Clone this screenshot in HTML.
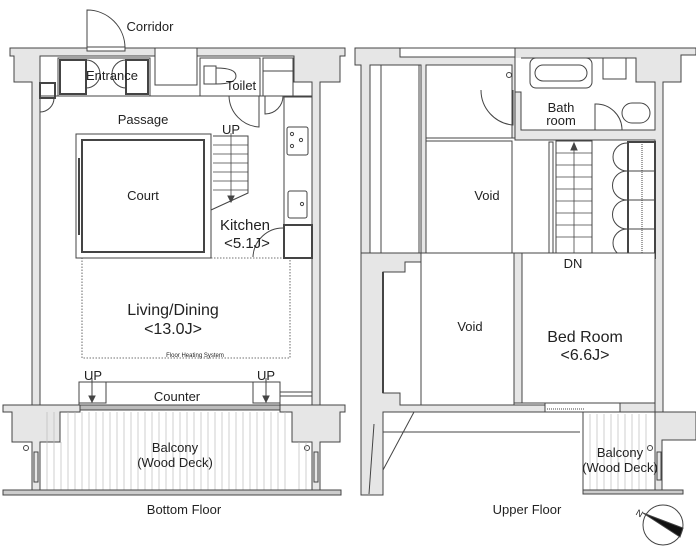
<!DOCTYPE html>
<html><head><meta charset="utf-8"><style>
html,body{margin:0;padding:0;background:#fff}
svg{display:block}
text{font-family:"Liberation Sans",sans-serif;fill:#222}
</style></head><body>
<svg width="696" height="550" viewBox="0 0 696 550" xmlns="http://www.w3.org/2000/svg">
<g stroke="#444" stroke-width="1" fill="none">
<!-- ===== BOTTOM FLOOR ===== -->
<path d="M10,48 H345 V56 H340 V82 H320 V405 H312 V82 H294 V56 H40 V82 H40 V405 H32 V82 H14 V56 H10 Z" fill="#e6e6e6"/>
<path d="M87,48 V10 A38,38 0 0 1 125,48" />
<rect x="87" y="47" width="38" height="4" fill="#fff"/>
<rect x="58" y="58" width="92" height="38" fill="#fff"/>
<rect x="60" y="60" width="26" height="34" stroke-width="2"/>
<rect x="126" y="60" width="22" height="34" stroke-width="2"/>
<path d="M86,60 A14,14 0 0 1 100,74 A14,14 0 0 1 86,88 M126,60 A14,14 0 0 0 112,74 A14,14 0 0 0 126,88"/>
<rect x="155" y="48" width="42" height="37" fill="#fff"/>
<rect x="200" y="58" width="60" height="38" fill="#fff"/>
<rect x="204" y="66" width="12" height="18"/>
<path d="M216,68 Q236,68 236,76 Q236,84 216,84"/>
<rect x="263" y="58" width="30" height="38" fill="#fff"/>
<line x1="263" y1="71" x2="293" y2="71"/>
<path d="M229,96 A32,32 0 0 0 259,127 V96 M265,96 V114 A18,18 0 0 0 283,96"/>
<rect x="40" y="83" width="15" height="15" stroke-width="2"/>
<path d="M40,98 V112 A14,14 0 0 0 54,98"/>
<line x1="40" y1="96" x2="312" y2="96"/>
<rect x="76" y="134" width="135" height="124"/>
<rect x="82" y="140" width="122" height="112" stroke-width="2"/>
<line x1="79" y1="158" x2="79" y2="235" stroke-width="2"/>
<path d="M213,136 H248 V193 L211,210"/>
<g stroke-width="0.8">
<line x1="213" y1="145" x2="248" y2="145"/><line x1="213" y1="154" x2="248" y2="154"/><line x1="213" y1="163" x2="248" y2="163"/><line x1="213" y1="172" x2="248" y2="172"/><line x1="213" y1="181" x2="248" y2="181"/><line x1="213" y1="190" x2="248" y2="190"/>
<line x1="231" y1="133" x2="231" y2="200"/>
</g>
<path d="M228,196 L231,202 L234,196 Z" fill="#444"/>
<rect x="284" y="97" width="28" height="128"/>
<rect x="287" y="127" width="21" height="28" rx="2"/>
<circle cx="292" cy="134" r="1.6"/><circle cx="301" cy="140" r="1.6"/><circle cx="292" cy="146" r="1.6"/>
<rect x="288" y="191" width="19" height="27" rx="2"/>
<circle cx="302" cy="204" r="1.6"/>
<rect x="284" y="225" width="28" height="33" stroke-width="2"/>
<path d="M253,257 A30,30 0 0 1 284,228"/>
<rect x="82" y="258" width="208" height="100" stroke-dasharray="1.5,1.5" stroke-width="0.8"/>
<rect x="79" y="382" width="201" height="23"/>
<rect x="79" y="382" width="27" height="21"/>
<rect x="253" y="382" width="27" height="21"/>
<line x1="92" y1="378" x2="92" y2="400"/><line x1="266" y1="378" x2="266" y2="400"/>
<path d="M89,396 L92,402 L95,396Z M263,396 L266,402 L269,396Z" fill="#444"/>
<path d="M280,392 H312 M280,396 H312"/>
<path d="M3,405 H80 V412 H60 V442 H40 V492 H32 V442 H12 V412 H3 Z" fill="#e6e6e6"/>
<path d="M280,405 H345 V412 H340 V442 H320 V492 H312 V442 H292 V412 H280 Z" fill="#e6e6e6"/>
<rect x="80" y="405" width="200" height="5" fill="#bbb"/>
<circle cx="26" cy="448" r="2.5"/><circle cx="307" cy="448" r="2.5"/>
<rect x="34" y="452" width="4" height="30"/><rect x="314" y="452" width="4" height="30"/>
<g stroke="#bbb" stroke-width="0.7">
<line x1="47" y1="412" x2="47" y2="490"/><line x1="54" y1="412" x2="54" y2="490"/><line x1="61" y1="442" x2="61" y2="490"/><line x1="68" y1="412" x2="68" y2="490"/><line x1="75" y1="412" x2="75" y2="490"/><line x1="82" y1="412" x2="82" y2="490"/><line x1="89" y1="412" x2="89" y2="490"/><line x1="96" y1="412" x2="96" y2="490"/><line x1="103" y1="412" x2="103" y2="490"/><line x1="110" y1="412" x2="110" y2="490"/><line x1="117" y1="412" x2="117" y2="490"/><line x1="124" y1="412" x2="124" y2="490"/><line x1="131" y1="412" x2="131" y2="490"/><line x1="138" y1="412" x2="138" y2="490"/><line x1="145" y1="412" x2="145" y2="490"/><line x1="152" y1="412" x2="152" y2="490"/><line x1="159" y1="412" x2="159" y2="490"/><line x1="166" y1="412" x2="166" y2="490"/><line x1="173" y1="412" x2="173" y2="490"/><line x1="180" y1="412" x2="180" y2="490"/><line x1="187" y1="412" x2="187" y2="490"/><line x1="194" y1="412" x2="194" y2="490"/><line x1="201" y1="412" x2="201" y2="490"/><line x1="208" y1="412" x2="208" y2="490"/><line x1="215" y1="412" x2="215" y2="490"/><line x1="222" y1="412" x2="222" y2="490"/><line x1="229" y1="412" x2="229" y2="490"/><line x1="236" y1="412" x2="236" y2="490"/><line x1="243" y1="412" x2="243" y2="490"/><line x1="250" y1="412" x2="250" y2="490"/><line x1="257" y1="412" x2="257" y2="490"/><line x1="264" y1="412" x2="264" y2="490"/><line x1="271" y1="412" x2="271" y2="490"/><line x1="278" y1="412" x2="278" y2="490"/><line x1="285" y1="412" x2="285" y2="490"/><line x1="299" y1="442" x2="299" y2="490"/><line x1="306" y1="442" x2="306" y2="490"/>
</g>
<rect x="3" y="490" width="338" height="5" fill="#ccc"/>

<!-- ===== UPPER FLOOR ===== -->
<path d="M355,48 H515 V138 H426 V253 H421 V65 H370 V253 H361 V65 H355 Z" fill="#e6e6e6"/>
<rect x="400" y="48" width="115" height="9" fill="#fff"/>
<path d="M515,48 H696 V55 H681 V82 H663 V412 H655 V140 H515 Z" fill="#e6e6e6"/>
<rect x="381" y="65" width="38" height="188" fill="#fff"/>
<rect x="426" y="65" width="86" height="73" fill="#fff"/>
<circle cx="509" cy="75" r="2.5"/>
<path d="M481,90 A35,35 0 0 0 513,125 V90"/>
<path d="M521,58 H636 V82 H655 V130 H521 V92 H515 V58" fill="#fff"/>
<rect x="530" y="58" width="62" height="30" rx="6"/>
<rect x="535" y="65" width="52" height="16" rx="8"/>
<rect x="603" y="58" width="23" height="21"/>
<rect x="622" y="103" width="28" height="20" rx="10"/>
<path d="M595,130 V104 A26,26 0 0 1 622,130"/>
<rect x="426" y="141" width="86" height="112" fill="#fff"/>
<rect x="549" y="142" width="4" height="112"/>
<rect x="556" y="141" width="36" height="112" fill="#fff"/>
<g stroke-width="0.8">
<line x1="556" y1="153" x2="592" y2="153"/><line x1="556" y1="165" x2="592" y2="165"/><line x1="556" y1="177" x2="592" y2="177"/><line x1="556" y1="189" x2="592" y2="189"/><line x1="556" y1="201" x2="592" y2="201"/><line x1="556" y1="213" x2="592" y2="213"/><line x1="556" y1="225" x2="592" y2="225"/><line x1="556" y1="237" x2="592" y2="237"/>
<line x1="574" y1="145" x2="574" y2="253"/>
</g>
<path d="M571,150 L574,143 L577,150Z" fill="#444"/>
<rect x="628" y="142" width="27" height="116" stroke-width="2" fill="#fff"/>
<line x1="628" y1="171" x2="655" y2="171"/><line x1="628" y1="200" x2="655" y2="200"/><line x1="628" y1="229" x2="655" y2="229"/>
<line x1="642" y1="144" x2="642" y2="256" stroke-dasharray="1,1"/>
<path d="M627,143 A14,14 0 0 0 627,171 A14,14 0 0 0 627,200 A14,14 0 0 0 627,229 A14,14 0 0 0 627,257"/>
<!-- lower -->
<path d="M361,253 H421 V262 H405 V272 H383 V393 H400 V405 H545 V412 H383 V495 H361 Z" fill="#e6e6e6"/>
<path d="M383,272 V393" stroke-width="2"/>
<rect x="514" y="253" width="8" height="150" fill="#e6e6e6"/>
<rect x="421" y="253" width="93" height="152" fill="#fff"/>
<rect x="522" y="253" width="133" height="150" fill="#fff"/>
<path d="M383,432 H580 M583,412 V492"/>
<path d="M545,403 V412 H620 V403"/>
<line x1="547" y1="409" x2="585" y2="409" stroke-dasharray="1,1"/>
<path d="M620,403 H655 V412 H696 V440 H662 V492 H655 V412 H620 Z" fill="#e6e6e6"/>
<line x1="414" y1="412" x2="383" y2="470"/><line x1="374" y1="424" x2="369" y2="494"/>
<g stroke="#bbb" stroke-width="0.7">
<line x1="590" y1="414" x2="590" y2="490"/><line x1="597" y1="414" x2="597" y2="490"/><line x1="604" y1="414" x2="604" y2="490"/><line x1="611" y1="414" x2="611" y2="490"/><line x1="618" y1="414" x2="618" y2="490"/><line x1="625" y1="414" x2="625" y2="490"/><line x1="632" y1="414" x2="632" y2="490"/><line x1="639" y1="414" x2="639" y2="490"/><line x1="646" y1="414" x2="646" y2="490"/>
</g>
<rect x="583" y="490" width="100" height="4" fill="#ccc"/>
<circle cx="650" cy="448" r="2.5"/><rect x="657" y="452" width="4" height="28"/>
<circle cx="663" cy="525" r="20"/>
<path d="M643,513 L683,528 L680,537 Z" fill="#111"/>
</g>
<g font-size="13" text-anchor="middle">
<text x="150" y="31">Corridor</text>
<text x="112" y="80">Entrance</text>
<text x="241" y="90">Toilet</text>
<text x="143" y="124">Passage</text>
<text x="231" y="134">UP</text>
<text x="143" y="200">Court</text>
<text x="245" y="230" font-size="15">Kitchen</text>
<text x="247" y="248" font-size="15">&lt;5.1J&gt;</text>
<text x="173" y="315" font-size="16">Living/Dining</text>
<text x="173" y="334" font-size="16">&lt;13.0J&gt;</text>
<text x="195" y="357" font-size="6">Floor Heating System</text>
<text x="93" y="380">UP</text>
<text x="266" y="380">UP</text>
<text x="177" y="401">Counter</text>
<text x="175" y="452">Balcony</text>
<text x="175" y="467">(Wood Deck)</text>
<text x="184" y="514">Bottom  Floor</text>
<text x="561" y="112">Bath</text>
<text x="561" y="125">room</text>
<text x="487" y="200">Void</text>
<text x="573" y="268">DN</text>
<text x="470" y="331">Void</text>
<text x="585" y="342" font-size="16">Bed Room</text>
<text x="585" y="360" font-size="16">&lt;6.6J&gt;</text>
<text x="620" y="457">Balcony</text>
<text x="620" y="472">(Wood Deck)</text>
<text x="527" y="514">Upper  Floor</text>
<text x="638" y="516" font-size="9" transform="rotate(30 638 516)">N</text>
</g>
</svg>
</body></html>
